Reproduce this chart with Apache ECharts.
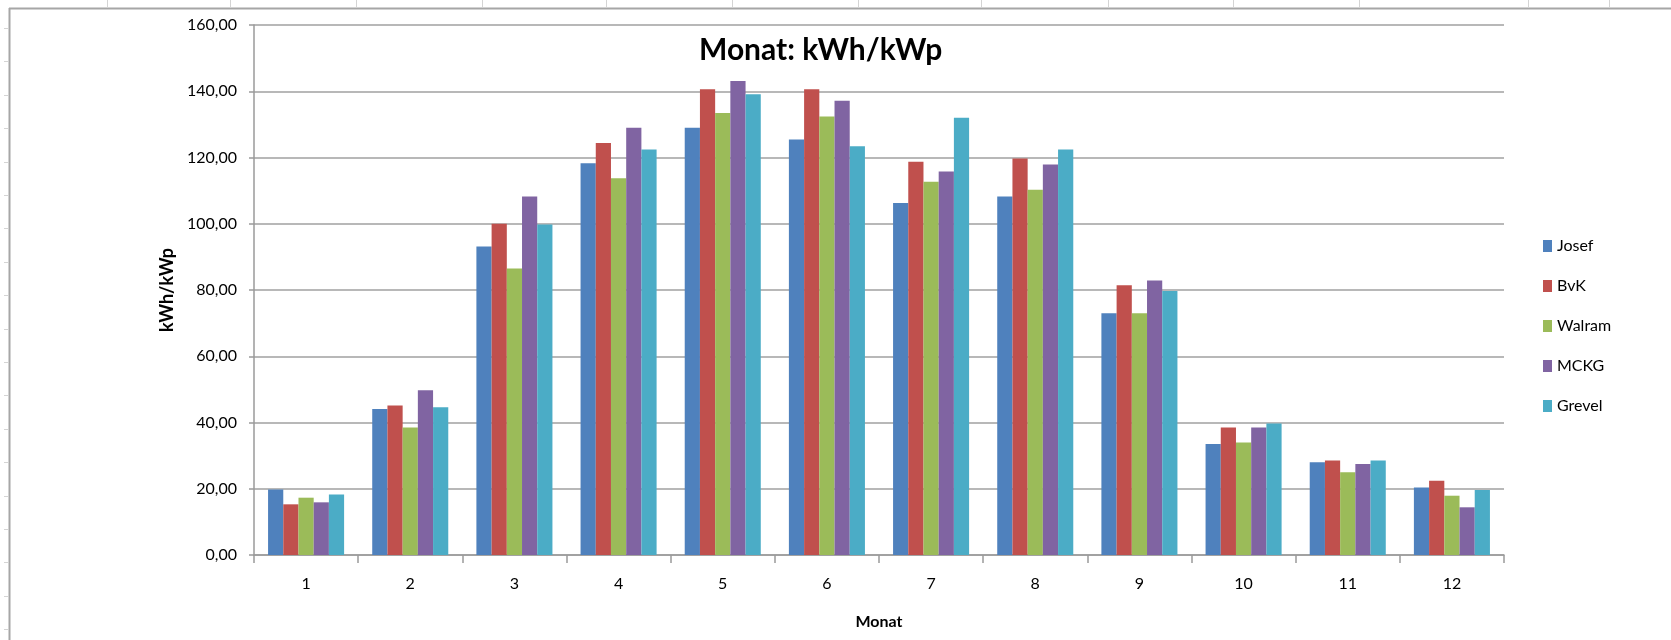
<!DOCTYPE html>
<html>
<head>
<meta charset="utf-8">
<script src="https://cdn.jsdelivr.net/npm/echarts@6/dist/echarts.min.js"></script>
<style>
  html, body { margin: 0; padding: 0; background: #fff; }
  #chart { width: 1671px; height: 640px; }
</style>
</head>
<body>
<div id="chart"></div>
<script>
const months = ['1', '2', '3', '4', '5', '6', '7', '8', '9', '10', '11', '12']
const seriesNames = ['Josef', 'BvK', 'Walram', 'MCKG', 'Grevel']

const josef = [19.8, 44.1, 93.1, 118.3, 129.0, 125.4, 106.3, 108.2, 73.0, 33.5, 28.0, 20.4]
const bvk = [15.3, 45.1, 100.0, 124.4, 140.6, 140.6, 118.7, 119.7, 81.4, 38.5, 28.5, 22.4]
const walram = [17.3, 38.5, 86.5, 113.7, 133.4, 132.4, 112.7, 110.3, 73.0, 34.0, 25.0, 17.9]
const mckg = [15.9, 49.7, 108.2, 129.0, 143.1, 137.1, 115.8, 117.9, 82.9, 38.5, 27.5, 14.4]
const grevel = [18.3, 44.6, 99.8, 122.4, 139.1, 123.4, 132.0, 122.4, 79.7, 39.7, 28.5, 19.6]

const colors = ['#4F81BD', '#C0504D', '#9BBB59', '#8064A2', '#4BACC6']
const font = 'Lato, "Open Sans", sans-serif'

// spreadsheet column separators visible above the chart frame
const sheetCols = [107, 230, 356, 482, 606, 732, 858, 981, 1108, 1233, 1359, 1528, 1609]

const iChart = echarts.init(document.getElementById('chart'))

const values = [josef, bvk, walram, mckg, grevel]
const series = seriesNames.map((name, i) => ({
  name: name,
  type: 'bar',
  data: values[i],
  barGap: '0%',
  barCategoryGap: '27%',
  itemStyle: { color: colors[i] }
}))

const frame = [
  { type: 'line', silent: true, shape: { x1: 9.5, y1: 8, x2: 9.5, y2: 640 }, style: { stroke: '#a6a6a6', lineWidth: 2 } },
  { type: 'line', silent: true, shape: { x1: 9, y1: 8.5, x2: 1671, y2: 8.5 }, style: { stroke: '#a6a6a6', lineWidth: 2 } }
]
sheetCols.forEach(x => {
  frame.push({ type: 'line', silent: true, shape: { x1: x + 0.5, y1: 0, x2: x + 0.5, y2: 7 }, style: { stroke: '#d4d4d4', lineWidth: 1 } })
})
for (let y = 28; y < 640; y += 33.4) {
  frame.push({ type: 'line', silent: true, shape: { x1: 4, y1: Math.round(y) + 0.5, x2: 8, y2: Math.round(y) + 0.5 }, style: { stroke: '#d4d4d4', lineWidth: 1 } })
}

const option = {
  backgroundColor: '#fff',
  animation: false,
  color: colors,
  textStyle: { fontFamily: font },
  title: {
    text: 'Monat: kWh/kWp',
    left: 694,
    top: 30,
    textStyle: { fontFamily: font, fontSize: 30, fontWeight: 'bold', color: '#000' }
  },
  graphic: frame,
  legend: {
    orient: 'vertical',
    left: 1538,
    top: 232,
    itemWidth: 9,
    itemHeight: 12,
    itemGap: 22,
    icon: 'rect',
    textStyle: { fontFamily: font, fontSize: 16, color: '#000', lineHeight: 18 },
    data: seriesNames
  },
  grid: { left: 254, top: 25, right: 167, bottom: 85 },
  xAxis: {
    type: 'category',
    data: months,
    name: 'Monat',
    nameLocation: 'middle',
    nameGap: 59,
    nameTextStyle: { fontFamily: font, fontSize: 16, fontWeight: 'bold', color: '#000' },
    axisLine: { lineStyle: { color: '#9a9a9a', width: 1.5 } },
    axisTick: { show: true, length: 8, alignWithLabel: false, lineStyle: { color: '#9a9a9a', width: 1.5 } },
    axisLabel: { fontFamily: font, fontSize: 16, color: '#000', margin: 21 }
  },
  yAxis: {
    type: 'value',
    min: 0,
    max: 160,
    interval: 20,
    name: 'kWh/kWp',
    nameLocation: 'middle',
    nameGap: 70,
    nameTextStyle: { fontFamily: font, fontSize: 18, fontWeight: 'bold', color: '#000' },
    axisLine: { show: true, lineStyle: { color: '#9a9a9a', width: 1.5 } },
    axisTick: { show: true, length: 5, lineStyle: { color: '#9a9a9a', width: 1.5 } },
    axisLabel: {
      fontFamily: font,
      fontSize: 16,
      color: '#000',
      margin: 17,
      formatter: v => v.toFixed(2).replace('.', ',')
    },
    splitLine: { lineStyle: { color: '#a0a0a0', width: 1.5 } }
  },
  series: series
}

iChart.setOption(option)
</script>
</body>
</html>
